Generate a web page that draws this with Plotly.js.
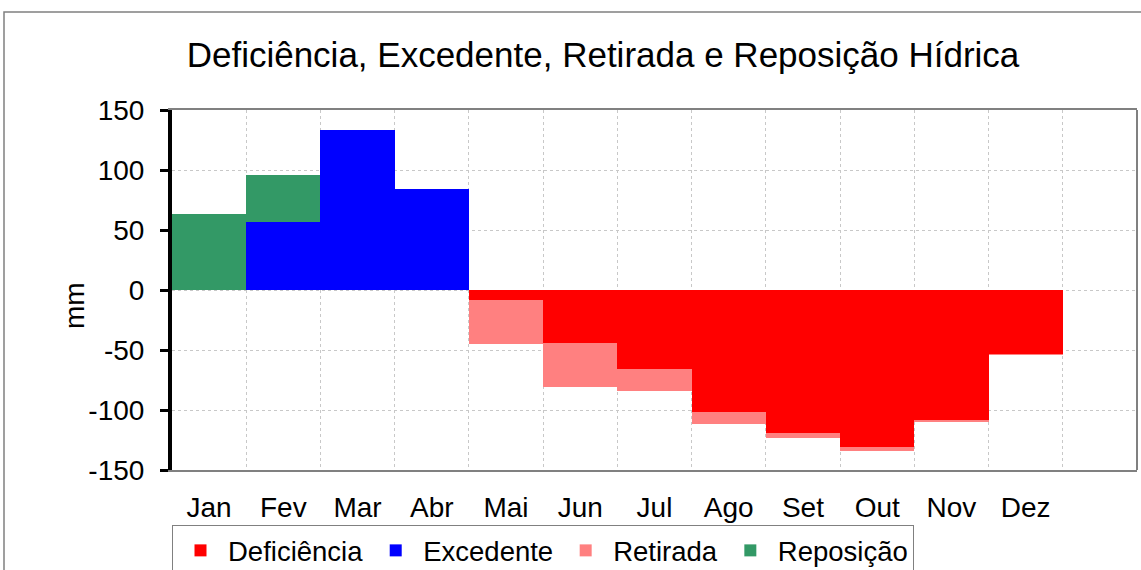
<!DOCTYPE html>
<html>
<head>
<meta charset="utf-8">
<script src="https://cdn.plot.ly/plotly-3.0.1.min.js"></script>
<style>html,body{margin:0;padding:0;background:#fff;}#chart{width:1141px;height:570px;}</style>
</head>
<body>
<div id="chart"></div>
<script>
const months = ['Jan','Fev','Mar','Abr','Mai','Jun','Jul','Ago','Set','Out','Nov','Dez'];
const deficiencia = [0, 0, 0, 0, -8, -44, -66, -102, -119, -131, -108.5, -53];
const excedente   = [0, 57, 133, 84, 0, 0, 0, 0, 0, 0, 0, 0];
const retirada    = [0, 0, 0, 0, -37, -37, -18, -10, -4, -3, -1.5, -1.5];
const reposicao   = [63, 39, 0, 0, 0, 0, 0, 0, 0, 0, 0, 0];
const yTickVals = [-150, -100, -50, 0, 50, 100, 150];
const yTickText = ['-150', '-100', '-50', '0', '50', '100', '150'];

const FONT = '"Liberation Sans", Arial, sans-serif';

function bar(name, y, color) {
  return {type: 'bar', name: name, x: months, y: y,
          marker: {color: color, line: {width: 0}}, hoverinfo: 'name+y'};
}

const traces = [
  bar('Deficiência', deficiencia, '#FF0000'),
  bar('Excedente', excedente, '#0000FF'),
  bar('Retirada', retirada, '#FF8080'),
  bar('Reposição', reposicao, '#339966')
];

const L = 172, R = 4, T = 110, B = 100, W = 1141, H = 570;
const pw = W - L - R, ph = H - T - B;

const layout = {
  width: W, height: H,
  margin: {l: L, r: R, t: T, b: B, pad: 0, autoexpand: false},
  paper_bgcolor: '#ffffff', plot_bgcolor: '#ffffff',
  font: {family: FONT, color: '#000000', size: 28},
  barmode: 'relative', bargap: 0,
  title: {text: 'Deficiência, Excedente, Retirada e Reposição Hídrica',
          font: {family: FONT, size: 35, color: '#000'},
          xref: 'paper', x: (603 - L) / pw, xanchor: 'center',
          yref: 'container', y: 1 - 55 / H, yanchor: 'middle'},
  xaxis: {type: 'category', range: [-0.5, 12.5], tickson: 'boundaries',
          showgrid: true, gridcolor: '#c8c8c8', griddash: 'dot', gridwidth: 1,
          ticks: '', showline: true, mirror: true, linecolor: '#808080', linewidth: 2,
          tickfont: {size: 28, family: FONT, color: '#000'}, ticklabelstandoff: 11,
          automargin: false, fixedrange: true},
  xaxis2: {overlaying: 'x', anchor: 'free', position: 0.5, type: 'linear',
           range: [0, 13], tick0: 0, dtick: 1, ticks: 'outside', ticklen: 8,
           tickwidth: 1.5, tickcolor: '#000', showticklabels: false,
           showline: true, linecolor: '#000', linewidth: 1.5,
           showgrid: false, zeroline: false, fixedrange: true},
  yaxis: {range: [-150, 150], tickvals: yTickVals, ticktext: yTickText,
          showgrid: true, gridcolor: '#c8c8c8',
          griddash: 'dot', zeroline: false, showline: true, linecolor: '#000',
          linewidth: 4, ticks: 'outside', ticklen: 8, tickwidth: 3, tickcolor: '#000',
          tickfont: {size: 28, family: FONT, color: '#000'}, ticklabelstandoff: 10,
          automargin: false, fixedrange: true},
  showlegend: true,
  legend: {orientation: 'h', x: 0, xanchor: 'left', xref: 'paper',
           yref: 'container', y: 1 - 525 / H, yanchor: 'top',
           itemwidth: 45,
           bgcolor: '#fff', bordercolor: '#808080', borderwidth: 1,
           font: {size: 27.5, family: FONT, color: '#000'}, traceorder: 'normal'},
  annotations: [{text: 'mm', xref: 'paper', yref: 'paper', x: (74 - L) / pw, y: (H - B - 306) / ph,
                 xanchor: 'center', yanchor: 'middle', textangle: -90, showarrow: false,
                 font: {size: 28, family: FONT, color: '#000'}}],
  shapes: [
    {type: 'line', xref: 'paper', yref: 'paper', x0: 1, x1: 1, y0: 0, y1: 1,
     line: {color: '#808080', width: 2}, layer: 'above'},
    {type: 'rect', xref: 'paper', yref: 'paper', x0: (4 - L) / pw, x1: 1.05,
     y0: -0.4, y1: (H - B - 12) / ph, line: {color: '#808080', width: 1.5}, layer: 'below'}
  ]
};

Plotly.newPlot('chart', traces, layout, {displayModeBar: false, staticPlot: true});
</script>
</body>
</html>
